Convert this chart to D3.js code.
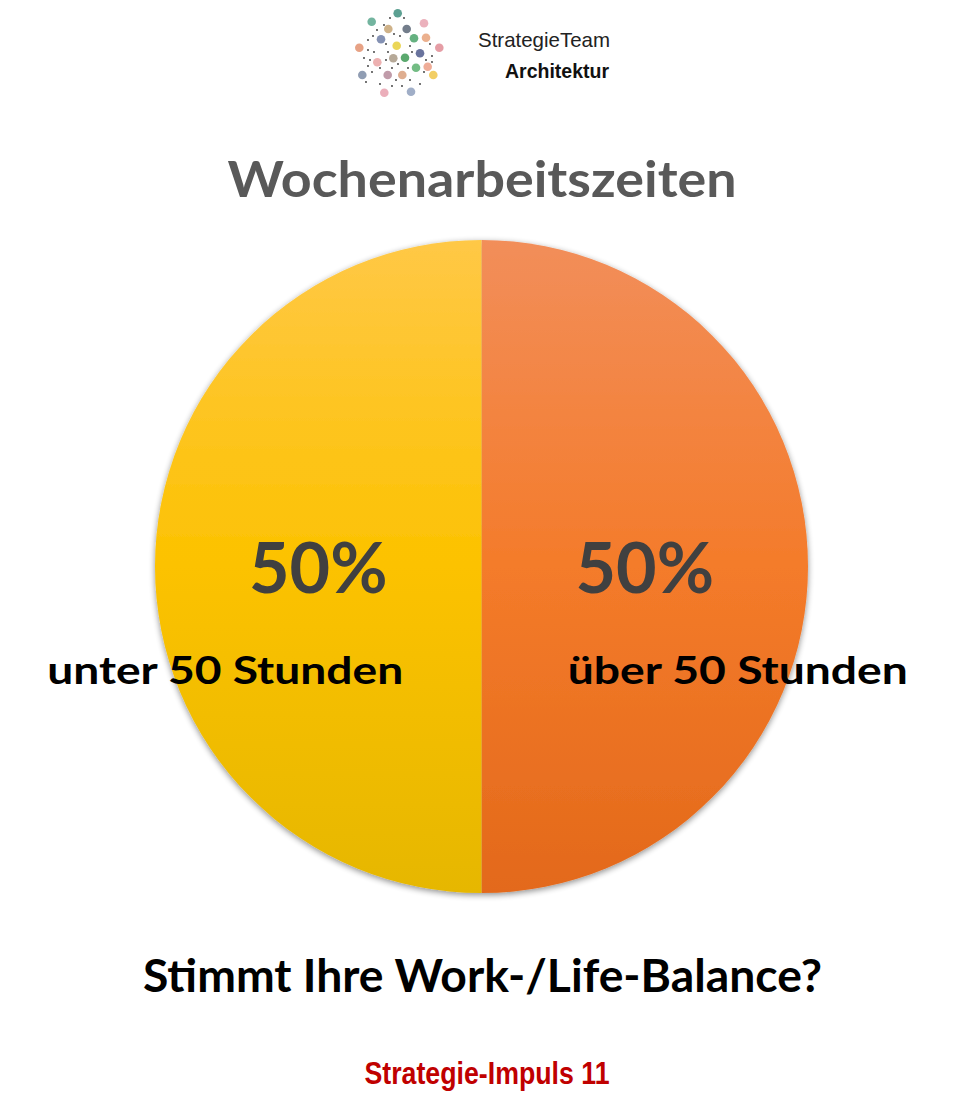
<!DOCTYPE html>
<meta charset="utf-8">
<style>
body { margin: 0; background: #fff; }
svg { display: block; }
</style>
<body>
<script src="https://d3js.org/d3.v7.min.js"></script>
<script>

// chart data
var categories = ["über 50 Stunden", "unter 50 Stunden"];
var values = [50, 50];
var title = "Wochenarbeitszeiten";
var question = "Stimmt Ihre Work-/Life-Balance?";
var footer = "Strategie-Impuls 11";

// logo decoration (little people bubbles + dots)
var logoBubbles = [
  [397.7, 13.3, "#3f8f7f"], [371.7, 21.7, "#5aa78e"], [424, 23.3, "#e7a3b0"],
  [388.3, 29, "#c7a574"], [406.7, 29, "#5b6677"], [414, 38.3, "#4aa36a"],
  [426, 37.7, "#e8a27a"], [381, 39.3, "#6f7ea6"], [396.7, 45.7, "#e8cf3a"],
  [359.3, 47.7, "#e39270"], [439.3, 47.7, "#e08c95"], [420, 53.3, "#4f5a8c"],
  [405, 57.7, "#3e9a55"], [393.3, 58.3, "#a99a86"], [377.3, 62.3, "#eaa3a3"],
  [416, 67.7, "#5bb06f"], [427.7, 66.7, "#ec9f86"], [362.3, 75, "#7d8ca6"],
  [387.7, 75, "#b58a9a"], [402.3, 75, "#d9a07c"], [433.3, 75, "#f0c549"],
  [384.3, 92.7, "#e8a0ae"], [411, 91.7, "#8fa0bd"]
];
var logoDots = [
  [390, 18], [404, 18], [384, 25], [377, 30], [394, 34], [400, 36], [373, 36],
  [368, 40], [386, 44], [410, 46], [430, 44], [368, 50], [374, 52], [388, 52],
  [412, 52], [432, 56], [364, 58], [370, 60], [386, 60], [398, 64], [426, 60],
  [432, 62], [368, 66], [380, 68], [392, 68], [408, 68], [424, 72], [372, 72],
  [396, 80], [410, 80], [380, 84], [392, 86], [402, 86], [420, 84], [366, 82]
];

var W = 976, H = 1112;
var cx = 481.5, cy = 566.5, radius = 326.5;

var svg = d3.select("body").append("svg")
  .attr("width", W)
  .attr("height", H);

var defs = svg.append("defs");

var f = defs.append("filter").attr("id", "shadow")
  .attr("x", "-10%").attr("y", "-10%").attr("width", "120%").attr("height", "120%");
f.append("feGaussianBlur").attr("in", "SourceAlpha").attr("stdDeviation", 3);
f.append("feOffset").attr("dx", 0).attr("dy", 2).attr("result", "b");
f.append("feComponentTransfer").append("feFuncA").attr("type", "linear").attr("slope", 0.45);
var fm = f.append("feMerge");
fm.append("feMergeNode");
fm.append("feMergeNode").attr("in", "SourceGraphic");

// vertical gradients per slice
var gradStops = [
  ["#f28e5a", "#f47b2a", "#e3691b"],
  ["#ffc846", "#fcc200", "#e6b700"]
];
gradStops.forEach(function(s, i) {
  var g = defs.append("linearGradient").attr("id", "grad" + i)
    .attr("gradientUnits", "userSpaceOnUse")
    .attr("x1", 0).attr("y1", -radius).attr("x2", 0).attr("y2", radius);
  g.append("stop").attr("offset", "0%").attr("stop-color", s[0]);
  g.append("stop").attr("offset", "50%").attr("stop-color", s[1]);
  g.append("stop").attr("offset", "100%").attr("stop-color", s[2]);
});

// logo
var logo = svg.append("g");
logo.selectAll("circle.dot")
  .data(logoDots)
  .enter().append("circle")
    .attr("class", "dot")
    .attr("cx", function(d) { return d[0]; })
    .attr("cy", function(d) { return d[1]; })
    .attr("r", 0.9)
    .style("fill", "#333");
logo.selectAll("circle.bub")
  .data(logoBubbles)
  .enter().append("circle")
    .attr("class", "bub")
    .attr("cx", function(d) { return d[0]; })
    .attr("cy", function(d) { return d[1]; })
    .attr("r", 4.3)
    .style("fill", function(d) { return d[2]; })
    .style("opacity", 0.85);
logo.append("text")
  .attr("x", 478).attr("y", 46.5)
  .attr("textLength", 132).attr("lengthAdjust", "spacingAndGlyphs")
  .style("font", "21px 'Liberation Sans', Arial, sans-serif")
  .style("fill", "#222")
  .text("StrategieTeam");
logo.append("text")
  .attr("x", 505).attr("y", 77.5)
  .attr("textLength", 104).attr("lengthAdjust", "spacingAndGlyphs")
  .style("font", "bold 20px 'Liberation Sans', Arial, sans-serif")
  .style("fill", "#111")
  .text("Architektur");

// title
svg.append("text")
  .attr("x", 482).attr("y", 197)
  .attr("text-anchor", "middle")
  .attr("textLength", 509).attr("lengthAdjust", "spacingAndGlyphs")
  .style("font", "bold 49px Lato, sans-serif")
  .style("fill", "#595959")
  .text(title);

// pie
var pie = d3.pie().sort(null).value(function(d) { return d; });
var arc = d3.arc().innerRadius(0).outerRadius(radius);
var pctArc = d3.arc().innerRadius(radius * 0.5).outerRadius(radius * 0.5);
var catArc = d3.arc().innerRadius(radius * 0.785).outerRadius(radius * 0.785);

var arcs = pie(values);

var g = svg.append("g").attr("transform", "translate(" + cx + "," + cy + ")");

g.append("g").attr("filter", "url(#shadow)")
  .selectAll("path")
  .data(arcs)
  .enter().append("path")
    .attr("d", arc)
    .style("fill", function(d, i) { return "url(#grad" + i + ")"; });

var total = d3.sum(values);

g.selectAll("text.pct")
  .data(arcs)
  .enter().append("text")
    .attr("class", "pct")
    .attr("x", function(d) { return pctArc.centroid(d)[0]; })
    .attr("y", 26.5)
    .attr("text-anchor", "middle")
    .style("font", "bold 70px Lato, sans-serif")
    .style("fill", "#404040")
    .text(function(d) { return Math.round(d.value / total * 100) + "%"; });

var catWidths = [340, 356];
g.selectAll("text.cat")
  .data(arcs)
  .enter().append("text")
    .attr("class", "cat")
    .attr("x", function(d) { return catArc.centroid(d)[0]; })
    .attr("y", 117.5)
    .attr("text-anchor", "middle")
    .attr("textLength", function(d, i) { return catWidths[i]; })
    .attr("lengthAdjust", "spacingAndGlyphs")
    .style("font", "bold 38px Lato, sans-serif")
    .style("fill", "#000")
    .text(function(d, i) { return categories[i]; });

// question
svg.append("text")
  .attr("x", 482.5).attr("y", 991.5)
  .attr("text-anchor", "middle")
  .attr("textLength", 679).attr("lengthAdjust", "spacingAndGlyphs")
  .style("font", "bold 46px Lato, sans-serif")
  .style("fill", "#000")
  .text(question);

// footer
svg.append("text")
  .attr("x", 487).attr("y", 1084)
  .attr("text-anchor", "middle")
  .attr("textLength", 245).attr("lengthAdjust", "spacingAndGlyphs")
  .style("font", "bold 31px 'Liberation Sans Narrow', 'Liberation Sans', Arial, sans-serif")
  .style("fill", "#c00000")
  .text(footer);

</script>
